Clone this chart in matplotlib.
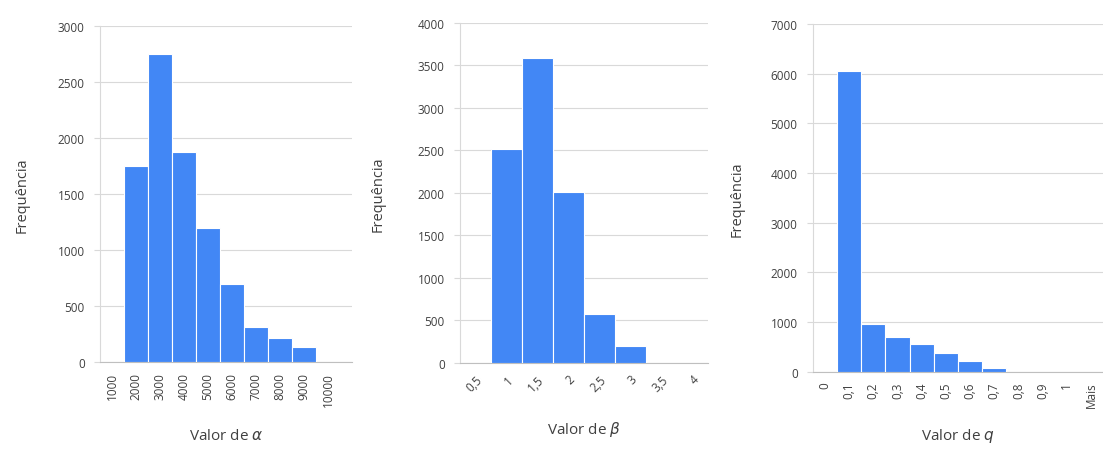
import matplotlib
matplotlib.use('Agg')
import matplotlib.pyplot as plt
import numpy as np

plt.rcParams['font.family'] = ['Open Sans', 'DejaVu Sans']

# bins / frequencies
alpha_bins = ['1000', '2000', '3000', '4000', '5000', '6000', '7000', '8000', '9000', '10000']
alpha_freq = [0, 1750, 2750, 1875, 1200, 695, 312, 214, 134, 0]

beta_bins = ['0,5', '1', '1,5', '2', '2,5', '3', '3,5', '4']
beta_freq = [0, 2520, 3590, 2010, 580, 200, 0, 0]

q_bins = ['0', '0,1', '0,2', '0,3', '0,4', '0,5', '0,6', '0,7', '0,8', '0,9', '1', 'Mais']
q_freq = [0, 6050, 960, 710, 560, 380, 210, 70, 0, 0, 0, 0]

bar_color = '#4287f5'
grid_color = '#d9d9d9'
text_color = '#404040'

fig = plt.figure(figsize=(11.03, 4.52), dpi=100)

panels = [
    dict(rect=[0.0907, 0.197, 0.2285, 0.743], bins=alpha_bins, freq=alpha_freq,
         ymax=3000, ystep=500, rot=90, xlim=(-0.5, 10.0), xlabel=r'Valor de $\alpha$',
         ylab_x=0.020, xlab_y=0.035),
    dict(rect=[0.417, 0.195, 0.225, 0.752], bins=beta_bins, freq=beta_freq,
         ymax=4000, ystep=500, rot=45, xlim=(-0.5, 7.5), xlabel=r'Valor de $\beta$',
         ylab_x=0.343, xlab_y=0.05),
    dict(rect=[0.737, 0.175, 0.263, 0.770], bins=q_bins, freq=q_freq,
         ymax=7000, ystep=1000, rot=90, xlim=(-0.5, 11.5), xlabel=r'Valor de $q$',
         ylab_x=0.668, xlab_y=0.035),
]

for p in panels:
    ax = fig.add_axes(p['rect'])
    x = np.arange(len(p['bins']))
    ax.bar(x, p['freq'], width=1.0, color=bar_color, edgecolor='white', linewidth=0.8, zorder=3)
    ax.set_xlim(*p['xlim'])
    ax.set_ylim(0, p['ymax'])
    ax.set_yticks(np.arange(0, p['ymax'] + 1, p['ystep']))
    ax.yaxis.grid(True, color=grid_color, linewidth=0.8, zorder=0)
    ax.set_xticks(x)
    if p['rot'] == 45:
        ax.set_xticklabels(p['bins'], rotation=45, ha='right', rotation_mode='anchor')
    else:
        ax.set_xticklabels(p['bins'], rotation=90)
    ax.tick_params(axis='x', length=0, labelsize=8.5, colors=text_color, pad=7)
    ax.tick_params(axis='y', length=4, width=0.8, color=grid_color, labelsize=8.5,
                   colors=text_color, pad=7)
    for s in ['top', 'right']:
        ax.spines[s].set_visible(False)
    ax.spines['left'].set_color(grid_color)
    ax.spines['bottom'].set_color('#bfbfbf')
    fig.text(p['ylab_x'], p['rect'][1] + p['rect'][3] / 2, 'Frequência', rotation=90,
             ha='center', va='center', fontsize=10.5, color=text_color)
    fig.text(p['rect'][0] + p['rect'][2] / 2, p['xlab_y'], p['xlabel'],
             ha='center', va='center', fontsize=11, color=text_color)

fig.savefig('out.png', dpi=100)
